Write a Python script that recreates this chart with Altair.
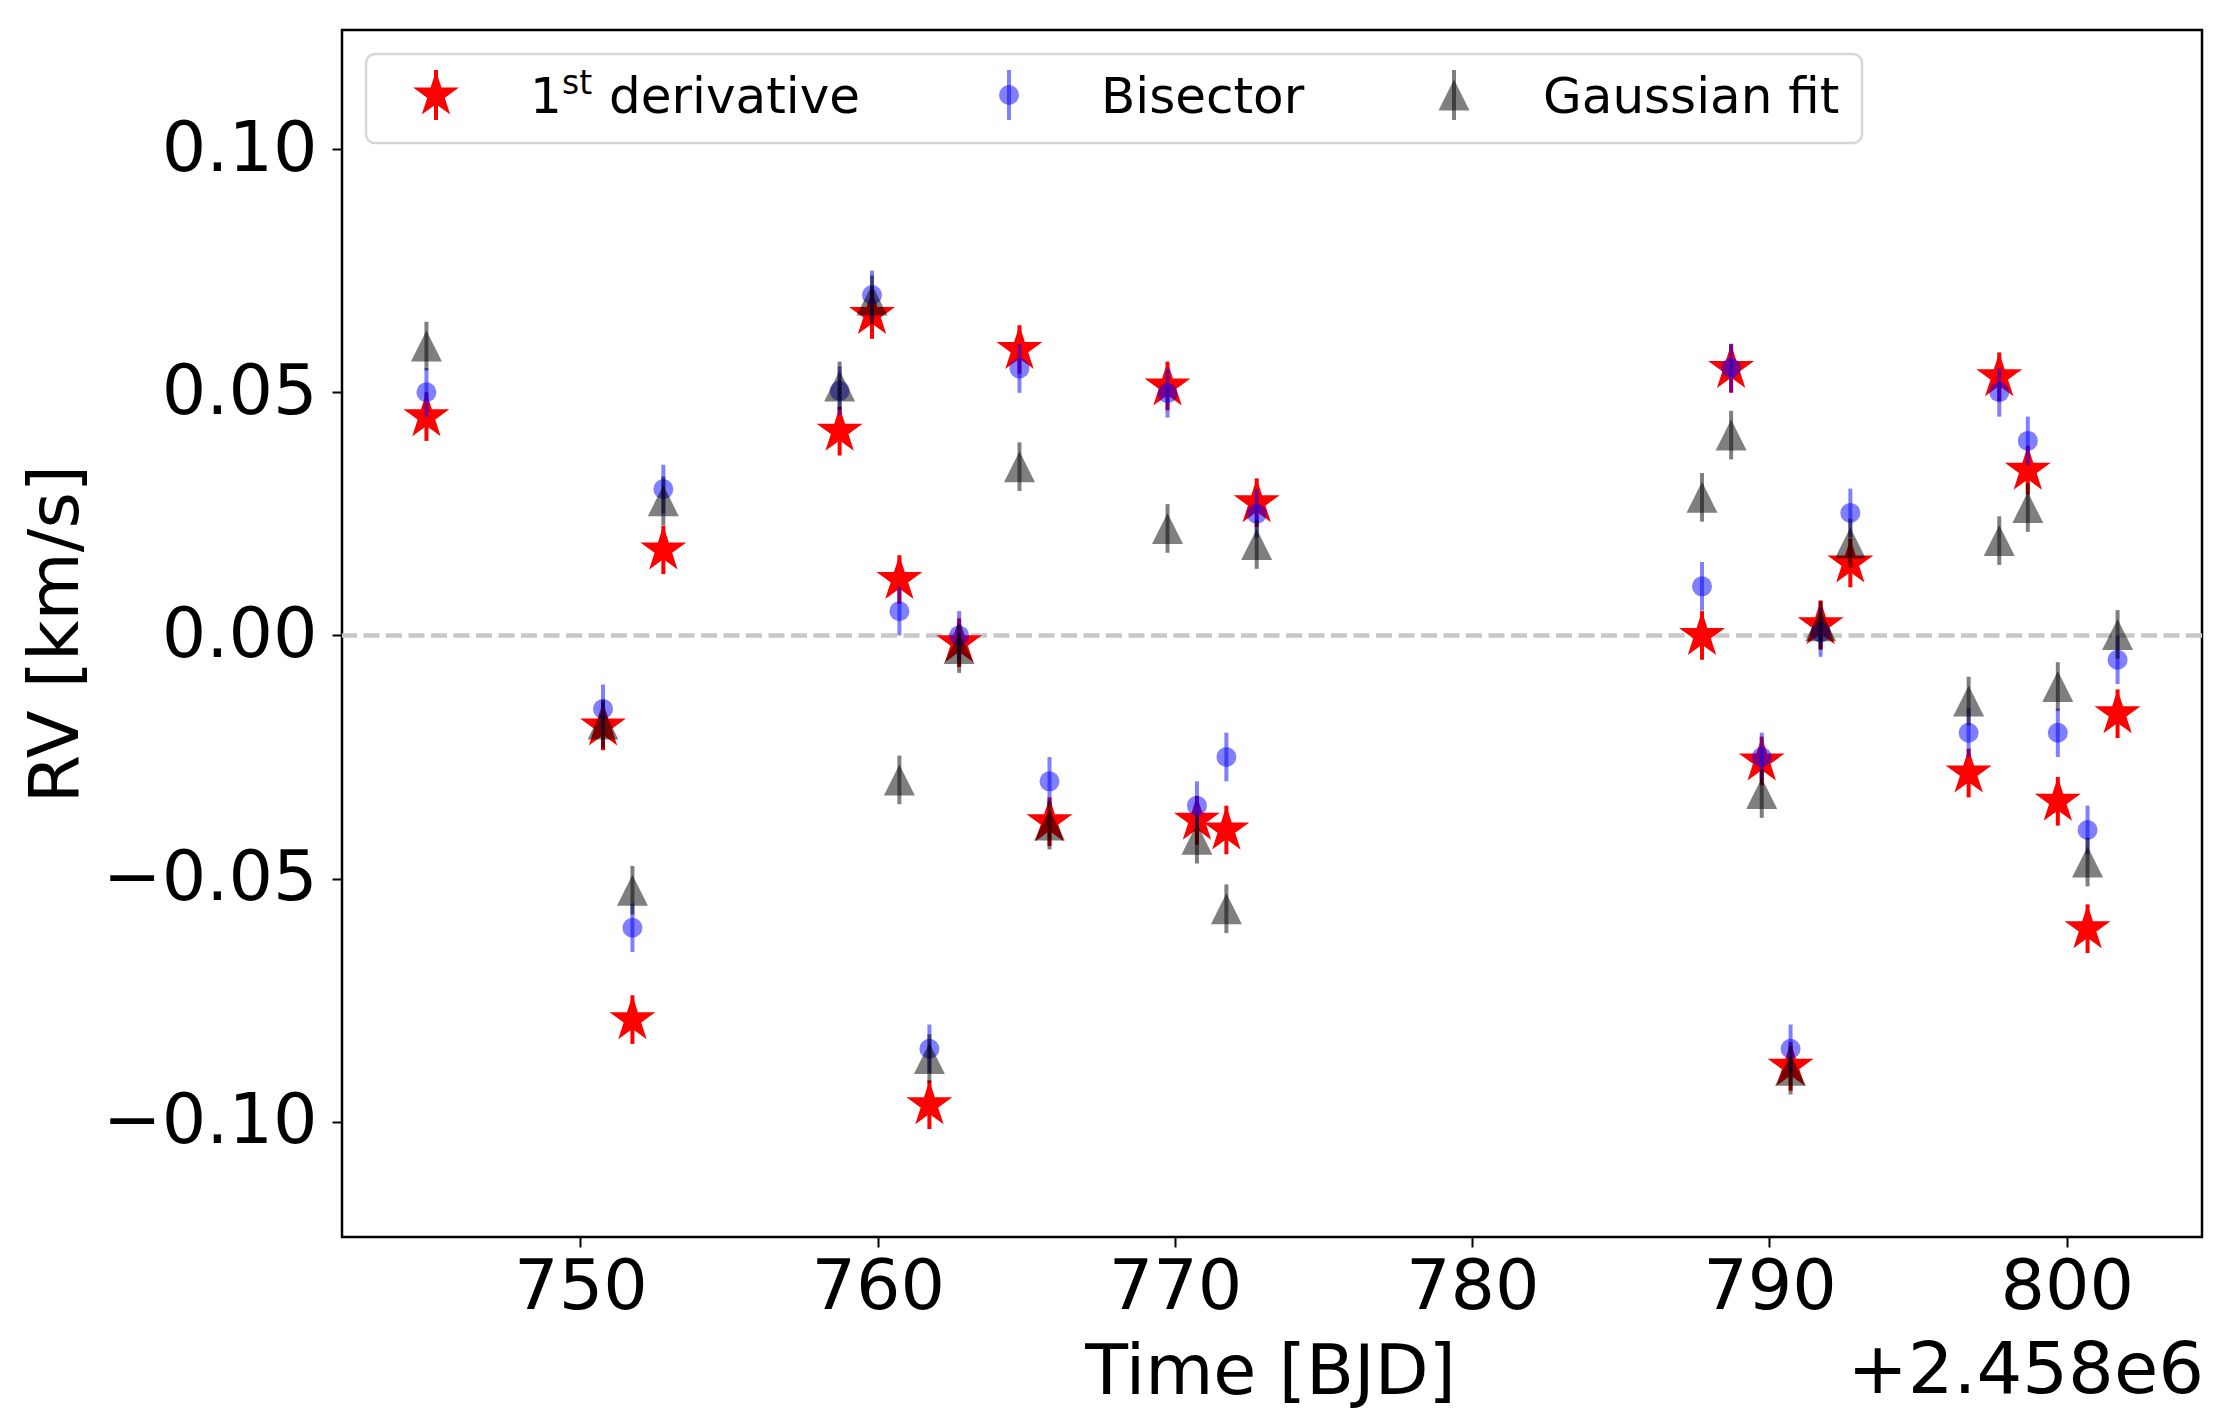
import altair as alt
import pandas as pd

# ---------------- data (time offset from 2458000 BJD) ----------------
TIME = [744.82, 750.76, 751.75, 752.79, 758.72, 759.81, 760.73, 761.74, 762.74,
        764.77, 765.78, 769.75, 770.74, 771.73, 772.75, 787.73, 788.71, 789.74,
        790.71, 791.72, 792.72, 796.70, 797.73, 798.69, 799.70, 800.70, 801.71]

RV_DERIV = [0.045, -0.0186, -0.079, 0.0176, 0.042, 0.066, 0.0115, -0.0965, -0.0015,
            0.0588, -0.0383, 0.0513, -0.038, -0.040, 0.0273, 0.0000, 0.0549, -0.0258,
            -0.0886, 0.0022, 0.0149, -0.0283, 0.0532, 0.034, -0.0341, -0.0603, -0.0161]

RV_BISECT = [0.050, -0.0151, -0.0601, 0.0301, 0.0503, 0.070, 0.005, -0.085, 0.000,
             0.0549, -0.030, 0.0498, -0.035, -0.025, 0.025, 0.0101, 0.055, -0.025,
             -0.085, 0.0006, 0.0252, -0.020, 0.050, 0.040, -0.020, -0.040, -0.005]

RV_GAUSS = [0.0595, -0.0182, -0.0524, 0.0277, 0.0513, 0.069, -0.0297, -0.087, -0.0027,
            0.0347, -0.039, 0.022, -0.0419, -0.0562, 0.0187, 0.0284, 0.0412, -0.0325,
            -0.0894, 0.002, 0.019, -0.0135, 0.0195, 0.0263, -0.0105, -0.0466, 0.0002]

RV_ERR = [0.005, 0.005, 0.005, 0.005, 0.005, 0.005, 0.005, 0.005, 0.005,
          0.005, 0.005, 0.005, 0.005, 0.005, 0.005, 0.005, 0.005, 0.005,
          0.005, 0.005, 0.005, 0.005, 0.005, 0.005, 0.005, 0.005, 0.005]

SERIES = ["1st derivative", "Bisector", "Gaussian fit"]
X_TICKS = [750, 760, 770, 780, 790, 800]
Y_TICKS = [-0.10, -0.05, 0.00, 0.05, 0.10]
X_DOMAIN = [741.98, 804.55]
Y_DOMAIN = [-0.1237, 0.1245]
OFFSET_TEXT = "+2.458e6"


def series_df(values):
    return pd.DataFrame({
        "t": TIME,
        "rv": values,
        "lo": [v - e for v, e in zip(values, RV_ERR)],
        "hi": [v + e for v, e in zip(values, RV_ERR)],
    })


df_deriv = series_df(RV_DERIV)
df_bis = series_df(RV_BISECT)
df_gauss = series_df(RV_GAUSS)
zero_df = pd.DataFrame({"t": [760.0], "y": [0.0]})
one_row = pd.DataFrame({"k": [0]})

W, H = 1860, 1207
FONT = "DejaVu Sans"

STAR = ("M0,-1L0.2245,-0.309L0.9511,-0.309L0.3633,0.118L0.5878,0.809L0,0.382"
        "L-0.5878,0.809L-0.3633,0.118L-0.9511,-0.309L-0.2245,-0.309Z")
TRI = "M0,-1L1,1L-1,1Z"

xscale = alt.Scale(domain=X_DOMAIN, nice=False, zero=False)
yscale = alt.Scale(domain=Y_DOMAIN, nice=False, zero=False)

x_axis = alt.Axis(values=X_TICKS, format="d", title="Time [BJD]",
                  labelFontSize=70, titleFontSize=70, labelFont=FONT, titleFont=FONT,
                  labelColor="black", titleColor="black", titleFontWeight="normal",
                  tickSize=10, tickWidth=2, tickColor="black", labelPadding=6,
                  domain=False, grid=False, labelFlush=False, labelLimit=0,
                  titleX=W / 2 - 2, titleY=156, titleBaseline="alphabetic",
                  titleAlign="center")
y_axis = alt.Axis(values=Y_TICKS, format=".2f", title="RV [km/s]",
                  labelFontSize=70, titleFontSize=70, labelFont=FONT, titleFont=FONT,
                  labelColor="black", titleColor="black", titleFontWeight="normal",
                  tickSize=10, tickWidth=2, tickColor="black", labelPadding=15,
                  domain=False, grid=False, labelLimit=0,
                  titleX=-265, titleY=H / 2, titleAngle=270,
                  titleBaseline="alphabetic", titleAlign="center")

X_ENC = alt.X("t:Q", scale=xscale, axis=x_axis)

zero_line = alt.Chart(zero_df).mark_rule(
    color="#c8c8c8", strokeWidth=4.5, strokeDash=[16, 6.5]
).encode(y=alt.Y("y:Q", scale=yscale, axis=y_axis))


def err_layer(df, color, opacity):
    return alt.Chart(df).mark_rule(color=color, opacity=opacity, strokeWidth=4).encode(
        x=X_ENC,
        y=alt.Y("lo:Q", scale=yscale, axis=y_axis),
        y2="hi:Q",
    )


def pt_layer(df, shape, size, color, opacity, stroke=None):
    kw = dict(shape=shape, filled=True, size=size, color=color, opacity=opacity)
    if stroke:
        kw.update(stroke=stroke, strokeWidth=2)
    return alt.Chart(df).mark_point(**kw).encode(
        x=X_ENC,
        y=alt.Y("rv:Q", scale=yscale, axis=y_axis),
    )


layers = [
    zero_line,
    err_layer(df_deriv, "red", 1.0),
    pt_layer(df_deriv, STAR, 1750, "red", 1.0, stroke="red"),
    err_layer(df_bis, "blue", 0.5),
    pt_layer(df_bis, "circle", 400, "blue", 0.5),
    err_layer(df_gauss, "black", 0.5),
    pt_layer(df_gauss, TRI, 961, "black", 0.5),
]

# ---------------- legend (drawn manually) ----------------
legend_box = alt.Chart(one_row).mark_rect(
    fill="white", fillOpacity=0.8, stroke="#d6d6d6", strokeWidth=2.5, cornerRadius=9
).encode(x=alt.value(24), x2=alt.value(1520), y=alt.value(24), y2=alt.value(113))
layers.append(legend_box)

leg_items = [
    (94, "red", 1.0, STAR, 1750, "red"),
    (667, "blue", 0.5, "circle", 400, None),
    (1112, "black", 0.5, TRI, 961, None),
]
for sx, color, op, shape, size, stroke in leg_items:
    layers.append(alt.Chart(one_row).mark_rule(color=color, opacity=op, strokeWidth=4).encode(
        x=alt.value(sx), y=alt.value(40), y2=alt.value(90)))
    kw = dict(shape=shape, filled=True, size=size, color=color, opacity=op)
    if stroke:
        kw.update(stroke=stroke, strokeWidth=2)
    layers.append(alt.Chart(one_row).mark_point(**kw).encode(
        x=alt.value(sx), y=alt.value(65)))


def txt(text, x, y, size, align="left"):
    return alt.Chart(one_row).mark_text(
        text=text, align=align, baseline="alphabetic", font=FONT, fontSize=size,
        color="black"
    ).encode(x=alt.value(x), y=alt.value(y))


layers += [
    txt("1", 188, 83, 50),
    txt("st", 220, 64, 33),
    txt("derivative", 267, 83, 50),
    txt(SERIES[1], 759, 83, 50),
    txt(SERIES[2], 1201, 83, 50),
    txt(OFFSET_TEXT, W + 2, H + 156, 72, align="right"),
]

chart = alt.layer(*layers).properties(
    width=W, height=H,
    autosize=alt.AutoSizeParams(type="none"),
    padding={"left": 334, "top": 22, "right": 14, "bottom": 175},
    background="white",
).configure_view(stroke="black", strokeWidth=2.5)

chart.save("out.html", embed_options={"renderer": "svg", "actions": False})
